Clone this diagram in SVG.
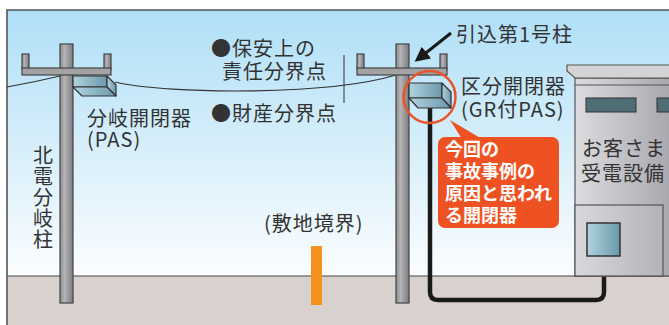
<svg xmlns="http://www.w3.org/2000/svg" width="669" height="325" viewBox="0 0 669 325">
  <defs>
    <linearGradient id="sky" x1="0" y1="0" x2="0" y2="1">
      <stop offset="0" stop-color="#afdff7"/>
      <stop offset="0.5" stop-color="#d6eefa"/>
      <stop offset="1" stop-color="#fbfdff"/>
    </linearGradient>
    <linearGradient id="pole" x1="0" y1="0" x2="1" y2="0">
      <stop offset="0" stop-color="#8e8e91"/>
      <stop offset="0.35" stop-color="#b4b4b7"/>
      <stop offset="1" stop-color="#7c7c80"/>
    </linearGradient>
    <linearGradient id="box" x1="0" y1="0" x2="1" y2="0">
      <stop offset="0" stop-color="#b2d2de"/>
      <stop offset="1" stop-color="#6a99ab"/>
    </linearGradient>
    <linearGradient id="wall" x1="0" y1="0" x2="1" y2="0">
      <stop offset="0" stop-color="#dcdcdf"/>
      <stop offset="1" stop-color="#a6a5ab"/>
    </linearGradient>
    <linearGradient id="panel" x1="0" y1="0" x2="1" y2="0">
      <stop offset="0" stop-color="#d9d9dc"/>
      <stop offset="1" stop-color="#b3b2b8"/>
    </linearGradient>
    <marker id="head" viewBox="0 0 10 10" refX="8" refY="5" markerWidth="5" markerHeight="5" orient="auto">
      <path d="M0,0 L10,5 L0,10 z" fill="#1a1a1a"/>
    </marker>
  </defs>
  <style>
    .lbl { font-family: "Noto Sans CJK JP", "Noto Sans", sans-serif; font-size: 20px; fill: #333333; letter-spacing: 1px; }
    .vert { font-family: "Noto Sans CJK JP", "Noto Sans", sans-serif; font-size: 20px; fill: #333333; writing-mode: vertical-rl; letter-spacing: 1px; }
    .call { font-family: "Noto Sans CJK JP", "Noto Sans", sans-serif; font-size: 18px; font-weight: bold; fill: #ffffff; }
    .pole { fill: url(#pole); stroke: #444; stroke-width: 1.2; }
    .arm { fill: #a3a3a6; stroke: #444; stroke-width: 1.2; }
    .box { fill: url(#box); stroke: #333; stroke-width: 1.2; stroke-linejoin: round; }
    .wire { fill: none; stroke: #333; stroke-width: 1.2; }
  </style>

  <!-- sky and ground -->
  <rect x="7" y="10" width="670" height="266" fill="url(#sky)"/>
  <rect x="7" y="276" width="670" height="60" fill="#d9d1ce"/>
  <line x1="7" y1="276" x2="669" y2="276" stroke="#444" stroke-width="1.2"/>
  <path d="M7,340 V10 H672" fill="none" stroke="#555" stroke-width="1.6"/>

  <!-- overhead line, pointer and cable -->
  <g id="connectors">
    <path class="wire" d="M7,87 Q35,82 60,76"/>
    <path class="wire" d="M115,82 C170,95 330,95 396,75"/>
    <line x1="344" y1="55" x2="344" y2="103" stroke="#333" stroke-width="1"/>
    <line x1="451" y1="33" x2="417" y2="60" stroke="#1a1a1a" stroke-width="3" marker-end="url(#head)"/>
    <!-- underground cable to customer equipment -->
    <path d="M430,108 V292 Q430,300 438,300 H596 Q604,300 604,292 V256" fill="none" stroke="#1a1a1a" stroke-width="4.5"/>
  </g>

  <!-- branch pole -->
  <g id="branch-pole">
    <rect class="pole" x="60" y="44" width="13" height="259"/>
    <rect class="pole" x="22" y="54" width="7" height="15"/>
    <rect class="pole" x="104" y="54" width="7" height="15"/>
    <rect class="arm" x="22" y="68" width="89" height="7"/>
  </g>
  <g id="branch-switch">
    <polygon class="box" points="73,76 107,76 107,87 73,87"/>
    <polygon class="box" points="107,76 116,85 116,96 107,87"/>
    <polygon class="box" points="73,87 82,96 116,96 107,87"/>
  </g>

  <!-- first service pole -->
  <g id="service-pole">
    <rect class="pole" x="396" y="44" width="13" height="259"/>
    <rect class="pole" x="357" y="54" width="7" height="15"/>
    <rect class="pole" x="440" y="54" width="7" height="15"/>
    <rect class="arm" x="357" y="68" width="90" height="7"/>
  </g>
  <g id="section-switch">
    <polygon class="box" points="409,83 442,83 442,98 409,98"/>
    <polygon class="box" points="442,83 451,92 451,108 442,98"/>
    <polygon class="box" points="409,98 418,108 451,108 442,98"/>
  </g>

  <!-- customer building -->
  <g id="building">
    <rect x="575" y="78" width="100" height="198" fill="url(#wall)" stroke="#555" stroke-width="1.2"/>
    <polygon points="567,65 675,65 675,78 575,78 567,71" fill="#d4d4d7" stroke="#555" stroke-width="1.2"/>
    <line x1="575" y1="85" x2="675" y2="85" stroke="#555" stroke-width="1.2"/>
    <rect x="586" y="98" width="50" height="14" fill="#4e6d77" stroke="#333" stroke-width="1"/>
    <rect x="657" y="98" width="30" height="14" fill="#4e6d77" stroke="#333" stroke-width="1"/>
    <rect x="575" y="205" width="88" height="71" fill="url(#panel)" stroke="#555" stroke-width="1.2"/>
    <rect x="587" y="223" width="33" height="33" fill="url(#box)" stroke="#333" stroke-width="1.5"/>
  </g>

  <!-- property line marker -->
  <g id="boundary">
    <rect x="311" y="246" width="11" height="59" fill="#f5921e"/>
  </g>

  <!-- highlight and callout -->
  <g id="callout">
    <circle cx="429.5" cy="97" r="26" fill="none" stroke="#e9542a" stroke-width="2.5"/>
    <polygon points="450,120 462,139 482,139" fill="#ef5222"/>
    <rect x="438" y="137" width="121" height="91" rx="7" fill="#ef5222"/>
    <text class="call" x="445" y="155.5">今回の</text>
    <text class="call" x="445" y="177.5">事故事例の</text>
    <text class="call" x="445" y="199.5">原因と思われ</text>
    <text class="call" x="445" y="221.5">る開閉器</text>
  </g>

  <!-- labels -->
  <g id="labels">
    <text class="lbl" x="211" y="55.5">●保安上の</text>
    <text class="lbl" x="222" y="78.5">責任分界点</text>
    <text class="lbl" x="211" y="120.5">●財産分界点</text>
    <text class="lbl" x="87" y="125.5">分岐開閉器</text>
    <text class="lbl" x="87" y="147">(PAS)</text>
    <text class="lbl" x="456" y="41.5">引込第1号柱</text>
    <text class="lbl" x="461" y="93.5">区分開閉器</text>
    <text class="lbl" x="461" y="117">(GR付PAS)</text>
    <text class="lbl" x="582" y="156">お客さま</text>
    <text class="lbl" x="581" y="180.5">受電設備</text>
    <text class="lbl" x="264" y="231">(敷地境界)</text>
    <text class="vert" x="43" y="145">北電分岐柱</text>
  </g>
</svg>
